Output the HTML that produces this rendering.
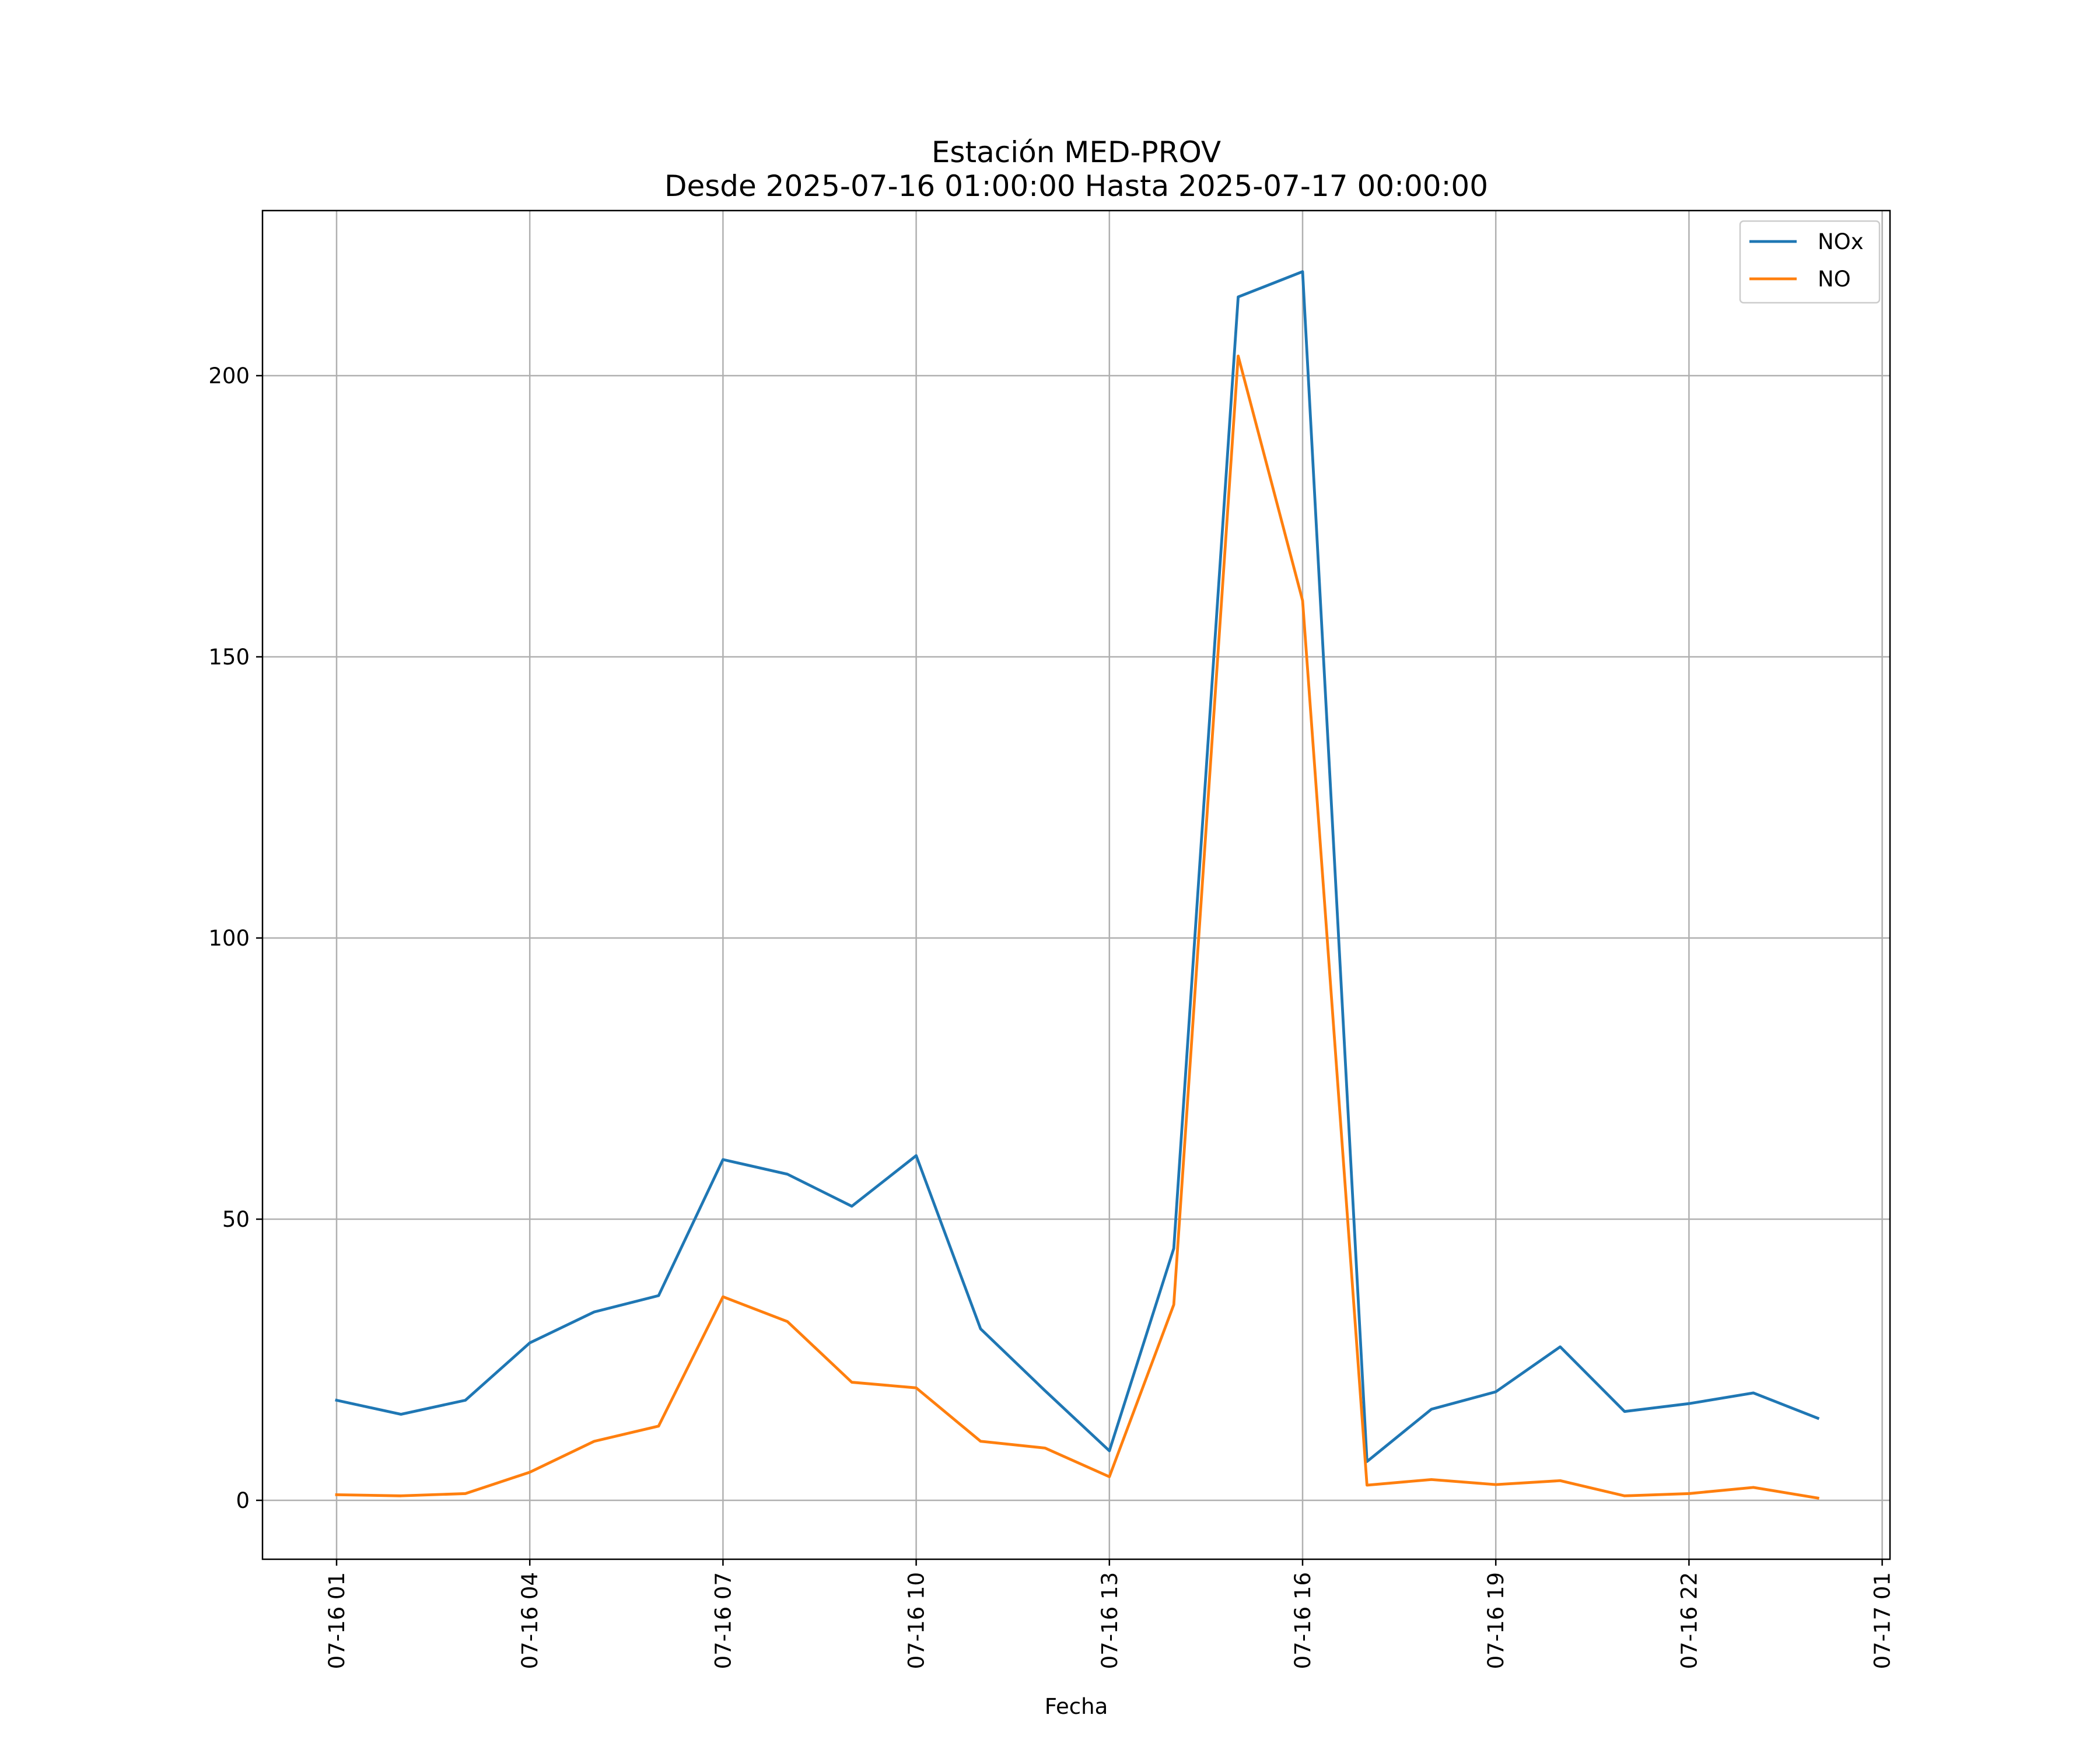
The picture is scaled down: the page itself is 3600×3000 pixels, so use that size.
<!DOCTYPE html>
<html><head><meta charset="utf-8"><style>
body{margin:0;background:#fff}
svg{display:block;font-family:"DejaVu Sans","Liberation Sans",sans-serif}
</style></head><body>
<svg id="chart" width="3600" height="3000" viewBox="0 0 3600 3000">
<rect width="3600" height="3000" fill="#fff"/>
<text x="1845" y="278" font-size="50" text-anchor="middle">Estación MED-PROV</text>
<text x="1845" y="336" font-size="50" text-anchor="middle">Desde 2025-07-16 01:00:00 Hasta 2025-07-17 00:00:00</text>
<g id="grid"></g><g id="series"></g><g id="axes"></g>
<text x="1845" y="2938" font-size="37" text-anchor="middle">Fecha</text>
<g>
<rect x="2983" y="379" width="239" height="140" fill="#fff" fill-opacity="0.8" stroke="#ccc" stroke-width="2.5" rx="6"/>
<line x1="2999" y1="414" x2="3080" y2="414" stroke="#1f77b4" stroke-width="4.8"/>
<text x="3116" y="427" font-size="37">NOx</text>
<line x1="2999" y1="478" x2="3080" y2="478" stroke="#ff7f0e" stroke-width="4.8"/>
<text x="3116" y="491" font-size="37">NO</text>
</g>
</svg>
<script>
const hours=[1,2,3,4,5,6,7,8,9,10,11,12,13,14,15,16,17,18,19,20,21,22,23,24];
const noxValues=[17.8,15.3,17.8,28,33.5,36.4,60.6,58,52.3,61.3,30.5,19.5,8.8,44.8,214,218.5,6.9,16.2,19.3,27.3,15.8,17.2,19.1,14.6];
const noValues=[1.0,0.8,1.2,5,10.5,13.2,36.2,31.8,21,20,10.5,9.3,4.2,34.8,203.5,160,2.7,3.7,2.8,3.5,0.8,1.2,2.3,0.4];
const yTicks=[0,50,100,150,200];
const xTickHours=[1,4,7,10,13,16,19,22,25];
const xTickLabels=["07-16 01","07-16 04","07-16 07","07-16 10","07-16 13","07-16 16","07-16 19","07-16 22","07-17 01"];
const L=450,R=3240,T=361,B=2673;
const X=h=>577+(h-1)*110.4;
const Y=v=>2572-v*9.64;
const NS="http://www.w3.org/2000/svg";
function mk(tag,attrs,parent){const e=document.createElementNS(NS,tag);for(const k in attrs)e.setAttribute(k,attrs[k]);parent.appendChild(e);return e;}
const grid=document.getElementById('grid'),axes=document.getElementById('axes'),series=document.getElementById('series');
yTicks.forEach(v=>{
  const g=mk('line',{x1:L,x2:R,y1:Y(v),y2:Y(v),stroke:'#b0b0b0','stroke-width':2.5},grid);
  
  
  const t=mk('line',{x1:L-11,x2:L,y1:Y(v),y2:Y(v),stroke:'#000','stroke-width':2.5},axes);
  
  
  const tx=mk('text',{x:L-22,y:Y(v)+13,'font-size':37,'text-anchor':'end'},axes);
  tx.textContent=v;
  
  
});
xTickHours.forEach((h,i)=>{
  const g=mk('line',{x1:X(h),x2:X(h),y1:T,y2:B,stroke:'#b0b0b0','stroke-width':2.5},grid);
  
  
  const t=mk('line',{x1:X(h),x2:X(h),y1:B,y2:B+11,stroke:'#000','stroke-width':2.5},axes);
  
  
  const tx=mk('text',{x:0,y:0,'font-size':37,'text-anchor':'end',transform:`translate(${X(h)+13},${B+22}) rotate(-90)`},axes);
  tx.textContent=xTickLabels[i];
  
  
});
const frame=mk('rect',{x:L,y:T,width:R-L,height:B-T,fill:'none',stroke:'#000','stroke-width':2.5},axes);


function line(vals,color,name){
  const p=mk('polyline',{points:vals.map((v,i)=>X(hours[i])+','+Y(v)).join(' '),fill:'none',stroke:color,'stroke-width':4.8,'stroke-linejoin':'round','stroke-linecap':'square'},series);
  
  
}
line(noxValues,'#1f77b4','nox-line');
line(noValues,'#ff7f0e','no-line');
</script>
</body></html>
